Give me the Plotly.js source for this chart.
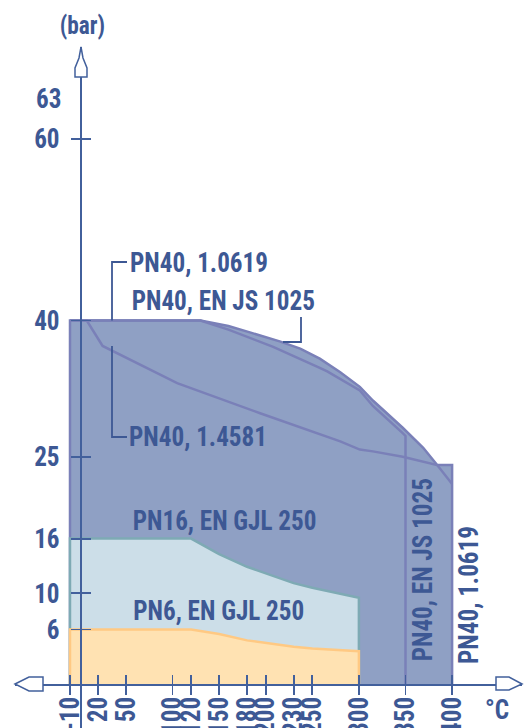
<!DOCTYPE html>
<html><head><meta charset="utf-8">
<script src="https://cdn.plot.ly/plotly-3.0.1.min.js"></script>
<style>html,body{margin:0;padding:0;background:#fff;overflow:hidden}</style>
</head><body>
<div id="chart" style="width:526px;height:728px"></div>
<script>
// ---- data ----
const tempTicks = [-10, 20, 50, 100, 120, 150, 180, 200, 230, 250, 300, 350, 400];
const tempTickLabels = ['-10', '20', '50', '100', '120', '150', '180', '200', '230', '250', '300', '350', '400'];
const pressureTicks = [6, 10, 16, 25, 40, 60];
const pressureTickLabels = ['6', '10', '16', '25', '40', '60'];

// PN40, 1.0619 (outer envelope)
const temp10619 = [-10, 130, 160, 183, 215, 237, 258, 280, 301, 315, 330, 347, 369, 384, 400];
const pres10619 = [40, 40, 39.4, 38.7, 37.7, 36.9, 35.8, 34.3, 32.7, 31.2, 29.8, 28.2, 26.0, 24.1, 24.1];
// PN40, EN JS 1025
const tempJS1025 = [-10, 130, 160, 208, 258, 266, 301, 315, 347, 350];
const presJS1025 = [40, 40, 39.0, 37.1, 34.8, 34.4, 32.3, 30.6, 27.6, 27.3];
// PN40, 1.4581
const temp14581 = [-10, 8, 25, 105, 194, 280, 301, 315, 347, 384, 400];
const pres14581 = [40, 40, 37.2, 33.1, 29.8, 26.7, 25.8, 25.6, 25.0, 24.1, 22.0];
// PN16, EN GJL 250
const tempPN16 = [-10, 120, 150, 180, 200, 230, 250, 300];
const presPN16 = [16, 16, 14.3, 12.9, 12.2, 11.1, 10.6, 9.5];
// PN6, EN GJL 250
const tempPN6 = [-10, 120, 150, 180, 200, 230, 250, 300];
const presPN6 = [6, 6, 5.5, 4.8, 4.5, 4.1, 3.9, 3.6];

// ---- styling ----
const FONT = "'Roboto Condensed', 'Noto Sans Condensed', 'Liberation Sans Narrow', 'DejaVu Sans Condensed', sans-serif";
const TXT = '#3d5894';
const AX = '#42609c';
const darkFill = '#8fa0c4', darkLine = '#7a80b8';
const lightFill = '#ccdee8', lightLine = '#7eaab4';
const orangeFill = '#ffe2b2', orangeLine = '#ffc983';

const M = {l: 15, r: 4, t: 47, b: 44};
const PW = 526 - M.l - M.r, PH = 728 - M.t - M.b;
const xRange = [-69, 475], yRange = [0, 70.1];
// pixel -> paper helpers for decorations (arrows)
const px = v => (v - M.l) / PW;
const py = v => (728 - M.b - v) / PH;
function paperPath(pts) {
  return 'M' + pts.map(p => px(p[0]).toFixed(5) + ',' + py(p[1]).toFixed(5)).join(' L') + ' Z';
}
const yAxisPos = px(81);

function closed(xs, ys) {
  return {x: [xs[0]].concat(xs, [xs[xs.length - 1]]), y: [0].concat(ys, [0])};
}

const envelope = closed(temp10619, pres10619);
const pn16 = closed(tempPN16, presPN16);
const pn6 = closed(tempPN6, presPN6);

const traces = [
  {x: envelope.x, y: envelope.y, type: 'scatter', mode: 'lines', fill: 'toself',
   fillcolor: darkFill, line: {color: darkLine, width: 2.5}, hoverinfo: 'skip', showlegend: false},
  {x: tempJS1025.concat([tempJS1025[tempJS1025.length - 1]]), y: presJS1025.concat([0]),
   type: 'scatter', mode: 'lines', line: {color: darkLine, width: 2.5}, hoverinfo: 'skip', showlegend: false},
  {x: temp14581, y: pres14581, type: 'scatter', mode: 'lines',
   line: {color: darkLine, width: 2.5}, hoverinfo: 'skip', showlegend: false},
  {x: pn16.x, y: pn16.y, type: 'scatter', mode: 'lines', fill: 'toself',
   fillcolor: lightFill, line: {color: lightLine, width: 2.5}, hoverinfo: 'skip', showlegend: false},
  {x: pn6.x, y: pn6.y, type: 'scatter', mode: 'lines', fill: 'toself',
   fillcolor: orangeFill, line: {color: orangeLine, width: 2.5}, hoverinfo: 'skip', showlegend: false},
  {x: [], y: [], xaxis: 'x2', yaxis: 'y2', type: 'scatter', hoverinfo: 'skip', showlegend: false}
];

const tickFont = {family: FONT, size: 27, color: TXT, weight: 'bold'};
const annFont = {family: FONT, size: 27, color: TXT, weight: 'bold'};

// px -> data helpers for label positions
const dx = v => xRange[0] + (v - M.l) / PW * (xRange[1] - xRange[0]);
const dy = v => (728 - M.b - v) / PH * (yRange[1] - yRange[0]);

function label(text, cx, cy, opts) {
  return Object.assign({text: text, x: dx(cx), y: dy(cy), xref: 'x', yref: 'y', showarrow: false,
    xanchor: 'center', yanchor: 'middle', font: annFont}, opts || {});
}

const annotations = [
  label('PN40, 1.0619', 198.5, 263),
  label('PN40, EN JS 1025', 223.5, 301),
  label('PN40, 1.4581', 197.5, 437),
  label('PN16, EN GJL 250', 224, 521),
  label('PN6, EN GJL 250', 218.5, 611),
  label('PN40, EN JS 1025', 423, 570, {textangle: -90}),
  label('PN40, 1.0619', 469, 595, {textangle: -90}),
  {text: '(bar)', xref: 'paper', yref: 'paper', x: px(82), y: py(26), showarrow: false,
   xanchor: 'center', yanchor: 'middle', font: {family: FONT, size: 25, color: TXT, weight: 'bold'}},
  {text: '63', xref: 'paper', yref: 'paper', x: px(48), y: py(99), showarrow: false,
   xanchor: 'center', yanchor: 'middle', font: tickFont},
  {text: '°C', xref: 'paper', yref: 'paper', x: px(497), y: py(710), showarrow: false,
   xanchor: 'center', yanchor: 'middle', font: tickFont}
];

const lead = {color: TXT, width: 1.8};
const shapes = [
  // leader lines
  {type: 'path', xref: 'x', yref: 'y', path: `M${dx(112)},40 L${dx(112)},${dy(262)} L${dx(127)},${dy(262)}`, line: lead},
  {type: 'path', xref: 'x', yref: 'y', path: `M${dx(283)},${dy(342)} L${dx(301)},${dy(342)} L${dx(301)},${dy(317)}`, line: lead},
  {type: 'path', xref: 'x', yref: 'y', path: `M${dx(112)},${dy(346)} L${dx(112)},${dy(437)} L${dx(127)},${dy(437)}`, line: lead},
  // y axis continuing below the x axis
  {type: 'line', xref: 'paper', yref: 'paper', x0: yAxisPos, x1: yAxisPos, y0: 0, y1: py(728), line: {color: AX, width: 2}},
  // hollow arrow heads
  {type: 'path', xref: 'paper', yref: 'paper', fillcolor: '#fff', line: {color: AX, width: 1.5},
   path: paperPath([[81, 47], [83, 58], [87, 68], [87, 77], [75, 77], [75, 68], [79, 58]])},
  {type: 'path', xref: 'paper', yref: 'paper', fillcolor: '#fff', line: {color: AX, width: 1.5},
   path: paperPath([[15, 684], [29, 677], [43, 677], [43, 691], [29, 691]])},
  {type: 'path', xref: 'paper', yref: 'paper', fillcolor: '#fff', line: {color: AX, width: 1.5},
   path: paperPath([[522, 684], [509, 677], [496, 677], [496, 690], [509, 690]])}
];

const layout = {
  width: 526, height: 728, margin: M, paper_bgcolor: '#fff', plot_bgcolor: 'rgba(0,0,0,0)',
  showlegend: false,
  xaxis: {range: xRange, fixedrange: true, showgrid: false, zeroline: false,
    showline: true, linecolor: AX, linewidth: 2, ticks: 'outside', ticklen: 9, tickwidth: 1.8, tickcolor: AX,
    tickmode: 'array', tickvals: tempTicks, ticktext: tempTickLabels, tickangle: -90, tickfont: tickFont,
    ticklabelstandoff: -9},
  yaxis: {range: yRange, fixedrange: true, showgrid: false, zeroline: false, anchor: 'free', position: yAxisPos,
    showline: true, linecolor: AX, linewidth: 2, ticks: 'outside', ticklen: 9, tickwidth: 1.8, tickcolor: AX,
    tickmode: 'array', tickvals: pressureTicks, ticktext: pressureTickLabels, tickfont: tickFont,
    ticklabelstandoff: 6},
  xaxis2: {range: xRange, overlaying: 'x', anchor: 'y', side: 'bottom', fixedrange: true, showgrid: false,
    zeroline: false, showline: false, ticks: 'inside', ticklen: 9, tickwidth: 1.8, tickcolor: AX,
    tickmode: 'array', tickvals: tempTicks, showticklabels: false},
  yaxis2: {range: yRange, overlaying: 'y', anchor: 'free', position: yAxisPos, side: 'left', fixedrange: true,
    showgrid: false, zeroline: false, showline: false, ticks: 'inside', ticklen: 9, tickwidth: 1.8, tickcolor: AX,
    tickmode: 'array', tickvals: pressureTicks, showticklabels: false},
  annotations: annotations,
  shapes: shapes
};

Plotly.newPlot('chart', traces, layout, {staticPlot: true, displayModeBar: false}).then(gd => {
  // the reference uses a narrow condensed face: squeeze the texts to its proportions if the
  // installed face is wider (calibrated on the "PN40, 1.0619" label, 138 px wide in the reference)
  const anns = Array.from(gd.querySelectorAll('.annotation-text'));
  const refText = anns.find(t => t.textContent === 'PN40, 1.0619');
  if (!refText) return;
  const k = Math.min(1, 138 / refText.getComputedTextLength());
  if (k > 0.985) return;
  const all = anns.concat(Array.from(gd.querySelectorAll('.xtick text, .ytick text')));
  all.forEach(t => {
    const L = t.getComputedTextLength();
    if (L > 0) {
      t.setAttribute('textLength', (L * k).toFixed(2));
      t.setAttribute('lengthAdjust', 'spacingAndGlyphs');
    }
  });
});
</script>
</body></html>
